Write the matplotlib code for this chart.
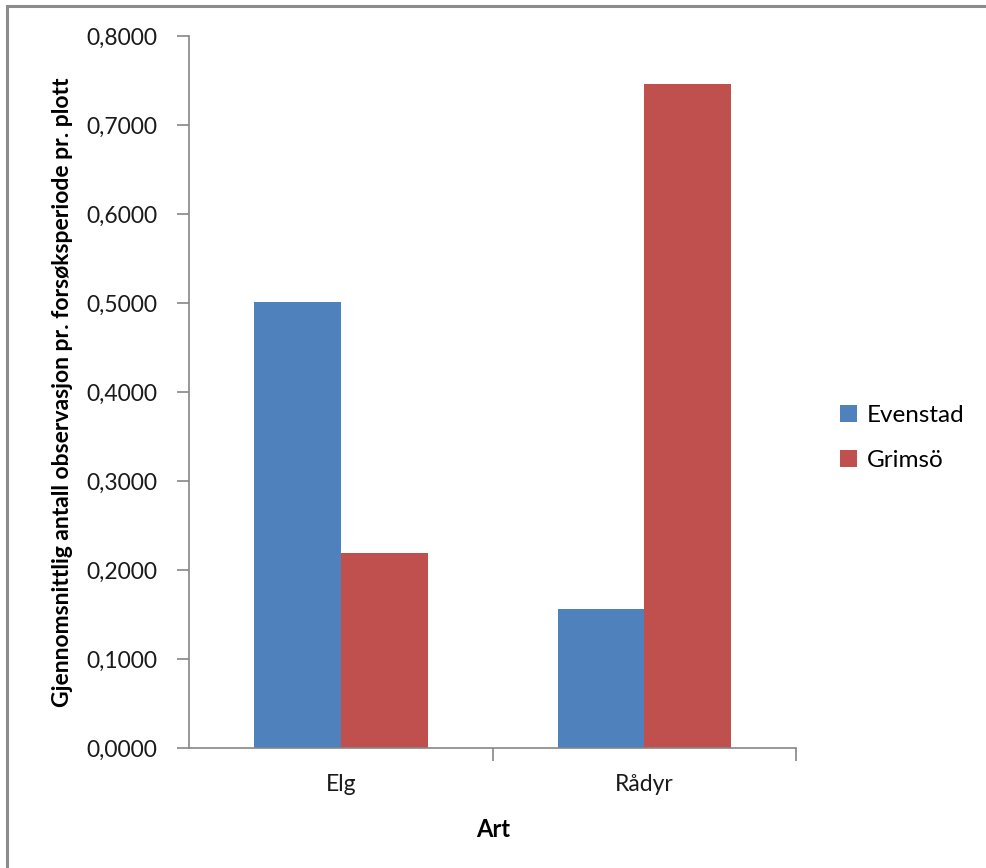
import numpy as np
import matplotlib.pyplot as plt
from matplotlib.patches import Rectangle
from matplotlib.ticker import FuncFormatter

# gjennomsnitt pr. art og lokalitet
arter = ['Elg', 'Rådyr']
evenstad = [0.501, 0.156]
grimso = [0.219, 0.746]
serier = ['Evenstad', 'Grimsö']
farger = ['#4F81BD', '#C0504D']

plt.rcParams['font.family'] = ['Lato', 'DejaVu Sans']

fig = plt.figure(figsize=(9.87, 8.68), dpi=100)
ax = fig.add_axes([189.5 / 987, 120 / 868, 606.5 / 987, 712 / 868])

# ramme rundt hele diagrammet
fig.patches.append(Rectangle((6.5 / 987, -0.1), 1.2, 1 - 6.5 / 868 + 0.1,
                             transform=fig.transFigure, fill=False,
                             edgecolor='#8c8c8c', linewidth=2.2))

x = np.arange(len(arter))
b = 0.286
ax.bar(x - b / 2, evenstad, b, color=farger[0], label=serier[0])
ax.bar(x + b / 2, grimso, b, color=farger[1], label=serier[1])

ax.set_xlim(-0.5, 1.5)
ax.set_ylim(0, 0.8)
ax.set_yticks(np.arange(0, 0.81, 0.1))
ax.yaxis.set_major_formatter(FuncFormatter(lambda v, p: f'{v:.4f}'.replace('.', ',')))
ax.set_xticks(x)
ax.set_xticklabels(arter)
ax.set_xticks([0.5, 1.5], minor=True)
ax.tick_params(axis='x', which='major', length=0, pad=19, labelsize=16.5, labelcolor='#1a1a1a')
ax.tick_params(axis='x', which='minor', length=9, width=1.2, color='#868686')
ax.tick_params(axis='y', length=9, width=1.2, color='#868686', pad=14, labelsize=16.5,
               labelcolor='#1a1a1a')

for s in ['top', 'right']:
    ax.spines[s].set_visible(False)
for s in ['left', 'bottom']:
    ax.spines[s].set_color('#868686')
    ax.spines[s].set_linewidth(1.2)

ax.set_xlabel('Art', fontsize=17, fontweight='bold', labelpad=16)
ax.set_ylabel('Gjennomsnittlig antall observasjon pr. forsøksperiode pr. plott',
              fontsize=16.5, fontweight='bold')
ax.yaxis.set_label_coords(-0.192, 0.5)

ax.legend(loc='center left', bbox_to_anchor=(1.037, 0.435), frameon=False,
          fontsize=17.5, handlelength=0.7, handleheight=0.7, handletextpad=0.4,
          labelspacing=1.0)

fig.savefig('out.png', dpi=100)
